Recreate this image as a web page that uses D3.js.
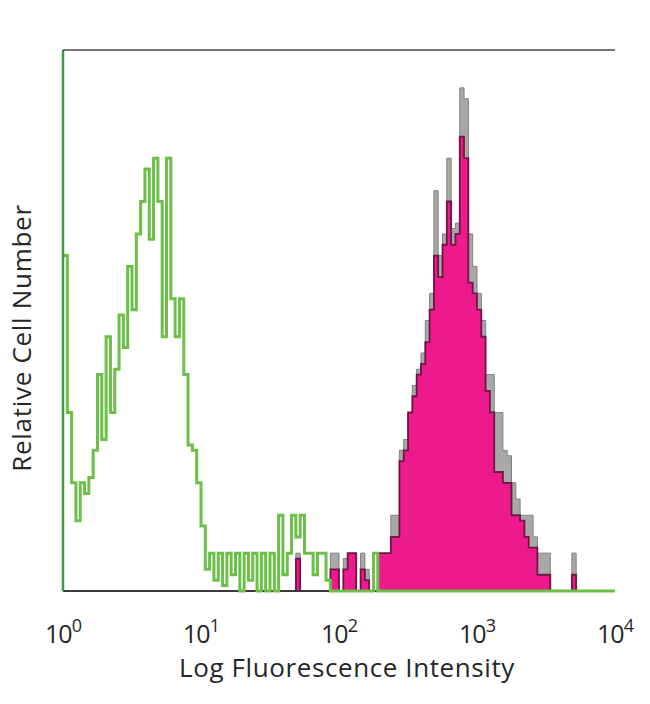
<!DOCTYPE html>
<html>
<head>
<meta charset="utf-8">
<script src="https://cdn.jsdelivr.net/npm/d3@7"></script>
<style>
  html, body { margin: 0; padding: 0; background: #fff; }
  svg { display: block; }
  text { font-family: "Open Sans", "Noto Sans", sans-serif; fill: #262626; }
</style>
</head>
<body>
<svg id="chart" width="650" height="704"></svg>
<script>
// ---- data ----
const binsPerDecade = 32;               // 128 channels over 4 decades
const decades = [0, 1, 2, 3, 4];        // tick exponents: 10^0 ... 10^4
const xTitle = "Log Fluorescence Intensity";
const yTitle = "Relative Cell Number";

// isotype control (green outline), one value per channel, channel 0..127
const isotype = [
  62, 33, 20, 13, 20, 18, 21, 26, 40, 28, 47, 33, 41, 51, 45, 60,
  52, 66, 72, 78, 65, 80, 72, 47, 80, 54, 47, 54, 40, 27, 26, 20,
  12, 4, 7, 2, 7, 1, 7, 3, 7, 0, 7, 2, 7, 0, 7, 0,
  7, 0, 14, 3, 7, 14, 10, 14, 7, 7, 3, 7, 7, 2, 0, 0,
  0, 0, 0, 0, 0, 0, 0, 0, 7, 0, 0, 0, 0, 0, 0, 0,
  0, 0, 0, 0, 0, 0, 0, 0, 0, 0, 0, 0, 0, 0, 0, 0,
  0, 0, 0, 0, 0, 0, 0, 0, 0, 0, 0, 0, 0, 0, 0, 0,
  0, 0, 0, 0, 0, 0, 0, 0, 0, 0, 0, 0, 0, 0, 0, 0
];

// stained sample (magenta fill), channel 0..127
const stained = [
  0, 0, 0, 0, 0, 0, 0, 0, 0, 0, 0, 0, 0, 0, 0, 0,
  0, 0, 0, 0, 0, 0, 0, 0, 0, 0, 0, 0, 0, 0, 0, 0,
  0, 0, 0, 0, 0, 0, 0, 0, 0, 0, 0, 0, 0, 0, 0, 0,
  0, 0, 0, 0, 0, 0, 6, 0, 0, 0, 0, 0, 0, 0, 4, 4,
  0, 4, 7, 7, 0, 4, 2, 0, 0, 7, 7, 7, 10, 10, 24, 26,
  33, 36, 40, 42, 46, 52, 62, 58, 64, 72, 64, 66, 84, 80, 57, 55,
  52, 47, 37, 33, 22, 22, 20, 20, 14, 14, 13, 10, 8, 8, 3, 3,
  3, 0, 0, 0, 0, 0, 3, 0, 0, 0, 0, 0, 0, 0, 0, 0
];

// stained sample, overlaid replicate outline (grey spikes), channel 0..127
const stainedOutline = [
  0, 0, 0, 0, 0, 0, 0, 0, 0, 0, 0, 0, 0, 0, 0, 0,
  0, 0, 0, 0, 0, 0, 0, 0, 0, 0, 0, 0, 0, 0, 0, 0,
  0, 0, 0, 0, 0, 0, 0, 0, 0, 0, 0, 0, 0, 0, 0, 0,
  0, 0, 0, 0, 0, 0, 7, 0, 0, 0, 0, 0, 0, 0, 7, 7,
  0, 6, 7, 7, 0, 7, 4, 0, 0, 7, 7, 7, 14, 14, 26, 28,
  33, 38, 41, 44, 50, 55, 74, 62, 66, 80, 67, 68, 93, 91, 66, 60,
  55, 50, 40, 40, 33, 33, 26, 25, 20, 17, 14, 14, 14, 10, 7, 7,
  7, 0, 0, 0, 0, 0, 7, 0, 0, 0, 0, 0, 0, 0, 0, 0
];

// ---- layout ----
const svg = d3.select("#chart");
const mLeft = 63, mRight = 615, mTop = 50, mBottom = 591;

const x = d3.scaleLog().domain([1, 1e4]).range([mLeft, mRight]);
const y = d3.scaleLinear().domain([0, 100]).range([mBottom, mTop]);

function toSteps(vals) {
  const pts = vals.map((v, i) => ({ lo: Math.pow(10, i / binsPerDecade), v }));
  pts.push({ lo: 1e4, v: vals[vals.length - 1] });
  return pts;
}

const area = d3.area().curve(d3.curveStepAfter)
  .x(d => x(d.lo)).y0(y(0)).y1(d => y(d.v));
const line = d3.line().curve(d3.curveStepAfter)
  .x(d => x(d.lo)).y(d => y(d.v));

// grey replicate outline (behind)
svg.append("path").datum(toSteps(stainedOutline))
  .attr("d", area).attr("fill", "#a8a8a8");
svg.append("path").datum(toSteps(stainedOutline))
  .attr("d", line).attr("fill", "none").attr("stroke", "#808080").attr("stroke-width", 1);

// magenta fill
svg.append("path").datum(toSteps(stained))
  .attr("d", area).attr("fill", "#ec1a8c");
svg.append("path").datum(toSteps(stained))
  .attr("d", line).attr("fill", "none").attr("stroke", "#5e0b36")
  .attr("stroke-width", 1.8).attr("stroke-opacity", 0.85);

// bottom axis line
svg.append("line").attr("x1", mLeft).attr("x2", mRight).attr("y1", mBottom).attr("y2", mBottom)
  .attr("stroke", "#3a3a3a").attr("stroke-width", 2);

// green isotype outline
svg.append("path").datum(toSteps(isotype))
  .attr("d", line).attr("fill", "none").attr("stroke", "#6cbf48")
  .attr("stroke-width", 3).attr("stroke-linejoin", "miter");

// left axis (green) and top frame line
svg.append("line").attr("x1", mLeft).attr("x2", mLeft).attr("y1", mTop).attr("y2", mBottom)
  .attr("stroke", "#3f9a47").attr("stroke-width", 2.5);
svg.append("line").attr("x1", mLeft).attr("x2", mRight).attr("y1", mTop).attr("y2", mTop)
  .attr("stroke", "#4a4a4a").attr("stroke-width", 1.5);

// tick labels 10^n
const tickG = svg.append("g");
decades.forEach(e => {
  const t = tickG.append("text")
    .attr("x", x(Math.pow(10, e)))
    .attr("y", 643)
    .attr("text-anchor", "middle")
    .style("font-size", "25px")
    .style("letter-spacing", "-1px");
  t.append("tspan").text("10");
  t.append("tspan").attr("dy", -11).style("font-size", "18px").text(String(e));
});

// axis titles
svg.append("text").attr("x", 347).attr("y", 677)
  .attr("text-anchor", "middle").style("font-size", "26px")
  .style("letter-spacing", "0.6px").text(xTitle);
svg.append("text")
  .attr("transform", `translate(31, 338) rotate(-90)`)
  .attr("text-anchor", "middle").style("font-size", "26px")
  .style("letter-spacing", "0.7px").text(yTitle);
</script>
</body>
</html>
